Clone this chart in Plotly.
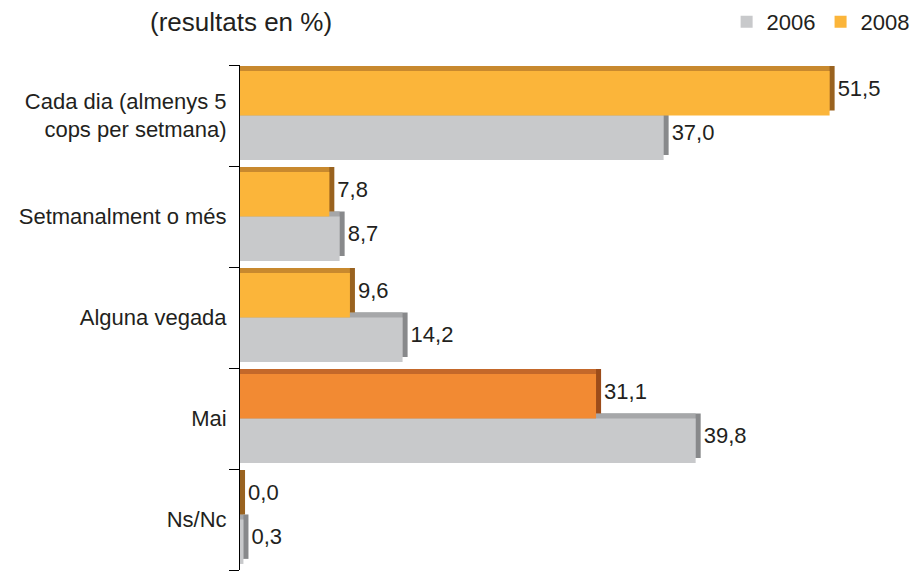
import plotly.graph_objects as go

CATEGORIES = [
    "Cada dia (almenys 5<br>cops per setmana)",
    "Setmanalment o més",
    "Alguna vegada",
    "Mai",
    "Ns/Nc",
]
VALUES_2006 = [37.0, 8.7, 14.2, 39.8, 0.3]
VALUES_2008 = [51.5, 7.8, 9.6, 31.1, 0.0]

FONT = "Liberation Sans, Arial, sans-serif"
TEXT_COLOR = "#231f20"

# pseudo-3D: a darker "side" block and a "top" block drawn behind each front bar
DEPTH_X = 0.44
DEPTH_Y = 0.05
BAR_W = 0.44

GREY = {"front": "#c8c9cb", "top": "#a6a7a9", "side": "#88898b"}
ORANGE = {"front": "#fbb53a", "top": "#c8892e", "side": "#99621f"}
ORANGE_MAI = {"front": "#f28a33", "top": "#c4682a", "side": "#9c4c1a"}


def fmt(v: float) -> str:
    return f"{v:.1f}".replace(".", ",")


def series_traces(name, values, offset, palettes):
    pos = list(range(len(values)))
    side = [p["side"] for p in palettes]
    top = [p["top"] for p in palettes]
    front = [p["front"] for p in palettes]
    return [
        go.Bar(
            y=pos, x=[v + DEPTH_X for v in values], orientation="h",
            offset=offset - DEPTH_Y, width=BAR_W,
            marker={"color": side, "line": {"width": 0}},
            text=[fmt(v) for v in values], textposition="outside",
            textfont={"size": 22, "color": TEXT_COLOR, "family": FONT},
            constraintext="none", cliponaxis=False,
            showlegend=False, hoverinfo="skip",
        ),
        go.Bar(
            y=pos, x=values, orientation="h",
            offset=offset - DEPTH_Y, width=BAR_W,
            marker={"color": top, "line": {"width": 0}},
            showlegend=False, hoverinfo="skip",
        ),
        go.Bar(
            y=pos, x=values, orientation="h", name=name,
            offset=offset, width=BAR_W,
            marker={"color": front, "line": {"width": 0}},
        ),
    ]


n = len(CATEGORIES)
traces = series_traces("2006", VALUES_2006, 0.0, [GREY] * n)
traces += series_traces(
    "2008", VALUES_2008, -BAR_W,
    [ORANGE_MAI if c == "Mai" else ORANGE for c in CATEGORIES],
)

fig = go.Figure(data=traces)
fig.update_layout(
    width=920,
    height=571,
    barmode="overlay",
    template="plotly_white",
    paper_bgcolor="white",
    plot_bgcolor="white",
    margin={"l": 240, "r": 16, "t": 65, "b": 1, "autoexpand": False},
    font={"family": FONT, "size": 22, "color": TEXT_COLOR},
    title={
        "text": "(resultats en %)",
        "x": 150 / 920, "xanchor": "left",
        "y": 1 - 22 / 571, "yanchor": "middle",
        "font": {"size": 26, "color": TEXT_COLOR},
        "automargin": False,
    },
    legend={
        "orientation": "h",
        "x": 1.016, "xanchor": "right",
        "y": 1.0 + 43 / 505, "yanchor": "middle",
        "font": {"size": 22},
        "traceorder": "normal",
        "itemwidth": 30,
        "tracegroupgap": 0,
    },
    xaxis={
        "range": [0, 58],
        "visible": False,
        "showgrid": False,
        "zeroline": False,
        "automargin": False,
    },
    yaxis={
        "range": [n - 0.5, -0.5],
        "tickmode": "array",
        "tickvals": list(range(n)),
        "ticktext": CATEGORIES,
        "ticks": "",
        "ticklabelstandoff": 8,
        "automargin": False,
        "showline": True,
        "linecolor": "#000000",
        "linewidth": 1,
        "showgrid": False,
        "zeroline": False,
        "minor": {
            "tickmode": "linear",
            "tick0": -0.5,
            "dtick": 1,
            "ticks": "outside",
            "ticklen": 10,
            "tickcolor": "#000000",
            "tickwidth": 1,
            "showgrid": False,
        },
    },
)

# the browser's default 8px body margin would shift the whole figure
fig.write_html(
    "out.html",
    config={"displayModeBar": False},
    post_script="document.body.style.margin = '0';",
)
